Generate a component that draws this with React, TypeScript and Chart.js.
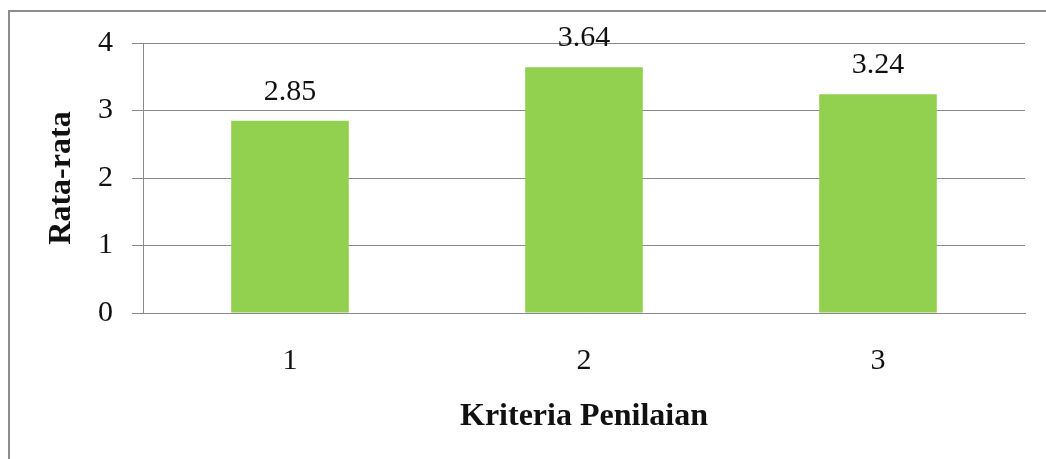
import React, { useEffect, useRef } from "react";
import { Chart, registerables } from "chart.js";

Chart.register(...registerables);

const categories = ["1", "2", "3"];
const averages = [2.85, 3.64, 3.24];
const yTicks = [0, 1, 2, 3, 4];

const xTitle = "Kriteria Penilaian";
const yTitle = "Rata-rata";

const BAR_COLOR = "#92D050";
const GRID_COLOR = "#8a8a8a";
const SERIF = "'Liberation Serif', 'Times New Roman', serif";

// Grey frame running along the left and top edges of the canvas
const framePlugin = {
  id: "frame",
  beforeDraw(chart: any) {
    const { ctx, width, height } = chart;
    ctx.save();
    ctx.strokeStyle = "#8c8c8c";
    ctx.lineWidth = 2;
    ctx.beginPath();
    ctx.moveTo(9, height + 2);
    ctx.lineTo(9, 11);
    ctx.lineTo(width + 2, 11);
    ctx.stroke();
    ctx.restore();
  },
};

// Value printed above each bar
const valueLabelPlugin = {
  id: "valueLabels",
  afterDatasetsDraw(chart: any) {
    const { ctx } = chart;
    const meta = chart.getDatasetMeta(0);
    ctx.save();
    ctx.font = `30px ${SERIF}`;
    ctx.fillStyle = "#111";
    ctx.textAlign = "center";
    ctx.textBaseline = "middle";
    meta.data.forEach((bar: any, i: number) => {
      ctx.fillText(averages[i].toFixed(2), bar.x, bar.y - 29);
    });
    ctx.restore();
  },
};

export default function App() {
  const canvasRef = useRef<HTMLCanvasElement | null>(null);

  useEffect(() => {
    if (!canvasRef.current) return;
    const chart = new Chart(canvasRef.current, {
      type: "bar",
      data: {
        labels: categories,
        datasets: [
          {
            data: averages,
            backgroundColor: BAR_COLOR,
            borderWidth: 0,
            categoryPercentage: 1,
            barPercentage: 0.4,
          },
        ],
      },
      options: {
        responsive: false,
        animation: false,
        devicePixelRatio: 1,
        layout: { padding: { top: 43, right: 21, left: 0, bottom: 0 } },
        plugins: {
          legend: { display: false },
          tooltip: { enabled: false },
        },
        scales: {
          x: {
            grid: { display: false, drawTicks: false },
            border: { display: true, color: GRID_COLOR, width: 1 },
            ticks: {
              color: "#111",
              font: { family: SERIF, size: 30 },
              padding: 30,
            },
            title: {
              display: true,
              text: xTitle,
              color: "#111",
              font: { family: SERIF, size: 32, weight: "bold" },
              padding: { top: 0, bottom: 23 },
            },
            afterFit(scale: any) {
              scale.height = 146;
            },
          },
          y: {
            min: 0,
            max: 4,
            afterBuildTicks(scale: any) {
              scale.ticks = yTicks.map((v) => ({ value: v }));
            },
            grid: {
              color: GRID_COLOR,
              lineWidth: 1,
              drawTicks: true,
              tickLength: 11,
            },
            border: { display: true, color: GRID_COLOR, width: 1 },
            ticks: {
              color: "#111",
              font: { family: SERIF, size: 30 },
              padding: 19,
            },
            title: {
              display: true,
              text: yTitle,
              color: "#111",
              font: { family: SERIF, size: 32, weight: "bold" },
              padding: { top: 43, bottom: 0 },
            },
            afterFit(scale: any) {
              scale.width = 143;
            },
          },
        },
      },
      plugins: [framePlugin, valueLabelPlugin],
    });
    return () => chart.destroy();
  }, []);

  return (
    <div
      style={{
        position: "fixed",
        left: 0,
        top: 0,
        width: 1046,
        height: 459,
        background: "#fff",
      }}
    >
      <canvas ref={canvasRef} width={1046} height={459} />
    </div>
  );
}
